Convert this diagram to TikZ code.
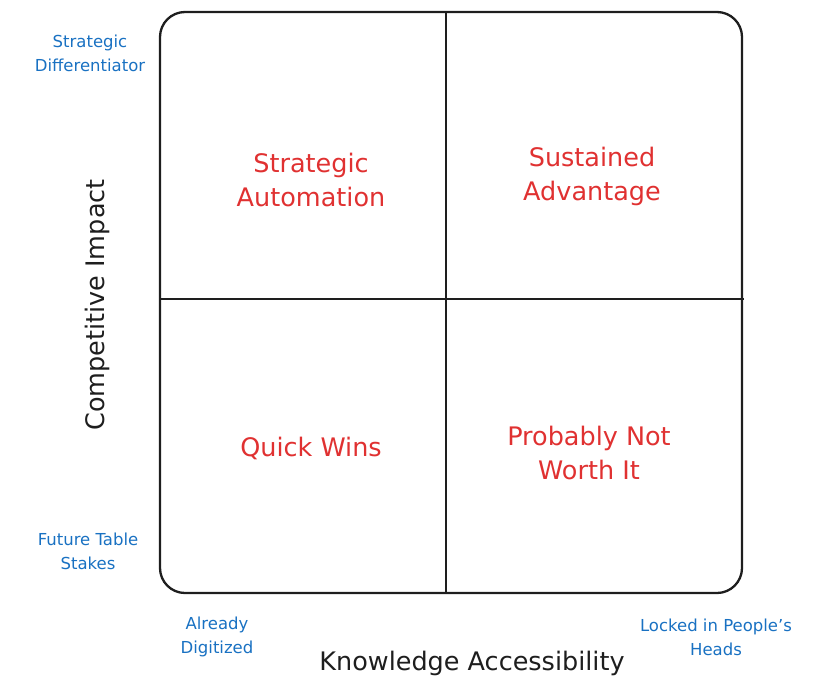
\documentclass[tikz,border=0pt]{standalone}
\usepackage{fontspec}
\setmainfont{DejaVu Sans}
\usepackage{xcolor}
\usetikzlibrary{positioning}

\definecolor{quadred}{HTML}{E03131}
\definecolor{poleblue}{HTML}{1971C2}
\definecolor{inkblack}{HTML}{1E1E1E}

\tikzset{
    quad/.style={text=quadred, align=center, font=\fontsize{25.5}{34}\selectfont},
    pole/.style={text=poleblue, align=center, font=\fontsize{16.5}{24}\selectfont},
    axis/.style={text=inkblack, font=\fontsize{25.5}{30}\selectfont},
    edge/.style={draw=inkblack, line width=2.3pt}
}

\begin{document}
\begin{tikzpicture}[x=1pt, y=-1pt]
            \useasboundingbox (0, 0) rectangle (821, 696);

            \draw[edge, rounded corners=25pt] (160, 12) rectangle (742, 593);
            \coordinate (top) at (446, 12);
            \coordinate (bottom) at (446, 593);
            \coordinate (left) at (160, 299);
            \coordinate (right) at (744, 299);
            \draw[edge] (top) -- (bottom);
            \draw[edge] (left) -- (right);

            \node[quad] (sa) at (311, 180) {Strategic\\Automation};
            \node[quad] (su) at (592, 176) {Sustained\\Advantage};
            \node[quad] (qw) at (311, 448) {Quick Wins};
            \node[quad] (pn) at (589, 453) {Probably Not\\Worth It};

            \node[pole] (sd) at (90, 53) {Strategic\\Differentiator};
            \node[pole] (ft) at (88, 551) {Future Table\\Stakes};
            \node[pole] (ad) at (217, 637) {Already\\Digitized};
            \node[pole] (lh) at (716, 637) {Locked in People's\\Heads};

            \node[axis, rotate=90] (ci) at (97, 305) {Competitive Impact};
            \node[axis] (ka) at (472, 663) {Knowledge Accessibility};
        \end{tikzpicture}
\end{document}
